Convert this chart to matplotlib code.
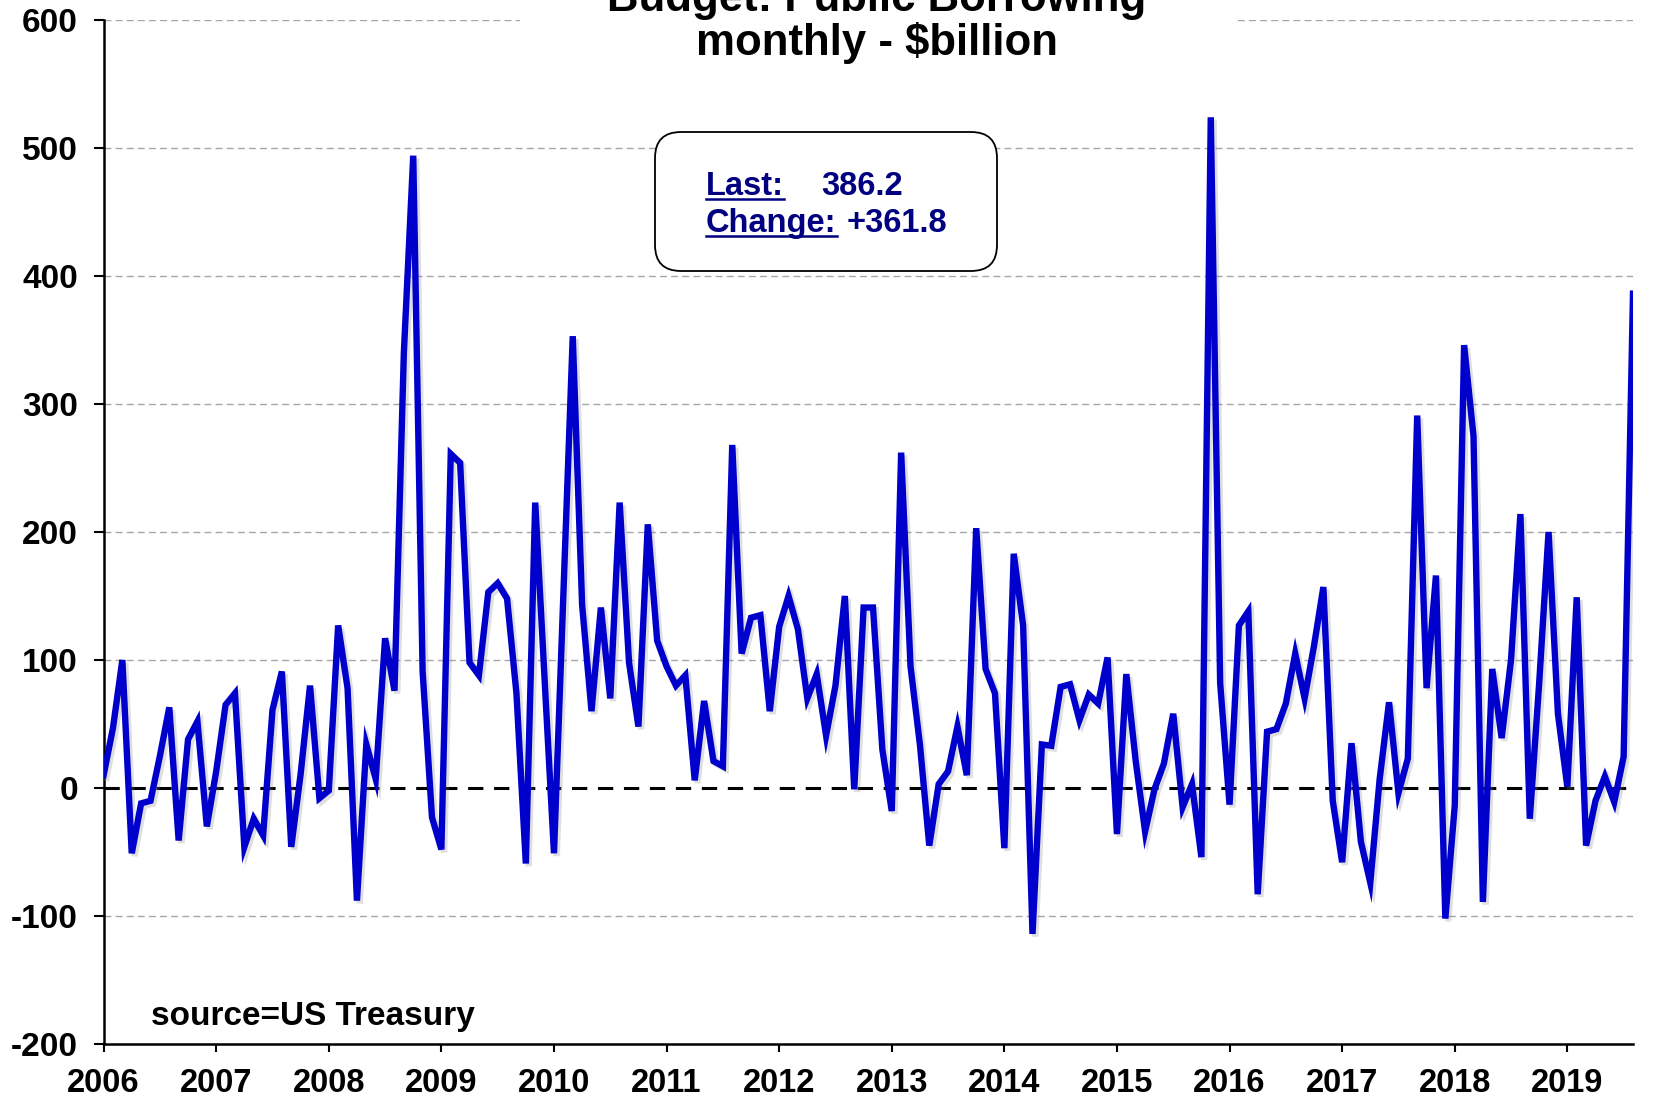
import matplotlib
matplotlib.use("Agg")
import matplotlib.pyplot as plt
import matplotlib.patheffects as pe
from matplotlib.patches import FancyBboxPatch, Rectangle
from matplotlib.lines import Line2D
from matplotlib.transforms import IdentityTransform
import numpy as np

# monthly public borrowing, $billion, Jan 2006 .. Aug 2019
y2006 = [10, 47, 100, -51, -12, -10, 25, 63, -41, 38, 52, -30]
y2007 = [13, 65, 74, -46, -24, -37, 61, 91, -46, 11, 80, -8]
y2008 = [-2, 127, 78, -88, 34, 7, 117, 76, 340, 494, 91, -23]
y2009 = [-48, 261, 254, 98, 88, 153, 160, 148, 74, -59, 223, 85]
y2010 = [-51, 150, 353, 143, 60, 141, 70, 223, 98, 48, 206, 115]
y2011 = [95, 80, 88, 6, 68, 21, 17, 268, 105, 133, 135, 60]
y2012 = [126, 150, 124, 70, 89, 41, 80, 150, -1, 141, 141, 30]
y2013 = [-18, 262, 95, 34, -45, 3, 13, 48, 10, 203, 93, 74]
y2014 = [-47, 183, 127, -114, 34, 33, 79, 81, 53, 73, 66, 102]
y2015 = [-36, 89, 21, -34, -1, 19, 58, -15, 3, -54, 524, 82]
y2016 = [-13, 127, 138, -83, 44, 46, 66, 105, 70, 111, 157, -10]
y2017 = [-58, 35, -42, -74, 7, 67, -4, 23, 291, 78, 166, -102]
y2018 = [-14, 346, 275, -89, 93, 39, 100, 214, -24, 82, 200, 58]
y2019 = [1, 149, -45, -10, 9, -11, 24.4, 386.2]

years = ["2006", "2007", "2008", "2009", "2010", "2011", "2012",
         "2013", "2014", "2015", "2016", "2017", "2018", "2019"]
yticks = [-200, -100, 0, 100, 200, 300, 400, 500, 600]

title1 = "Budget: Public Borrowing"
title2 = "monthly - $billion"
last_val = "386.2"
change_val = "+361.8"
source = "source=US Treasury"

values = (y2006 + y2007 + y2008 + y2009 + y2010 + y2011 + y2012 +
          y2013 + y2014 + y2015 + y2016 + y2017 + y2018 + y2019)
months = np.arange(len(values))

plt.rcParams["font.family"] = ["Liberation Sans", "DejaVu Sans"]
plt.rcParams["font.weight"] = "bold"

W, H = 1654, 1100
fig = plt.figure(figsize=(W / 100, H / 100), dpi=100)
ax = fig.add_axes([103.6 / W, 1 - 1044 / H, (1633 - 103.6) / W, (1044 - 20) / H])

for v in yticks[1:]:
    if v == 0:
        continue
    ax.axhline(v, color="#a6a6a6", lw=1, ls=(0, (5, 3)), zorder=1)
ax.axhline(0, color="black", lw=2.2, ls=(0, (5, 3.5)), zorder=2)

ax.plot(months, values, color="#0000cc", lw=4.6, zorder=3,
        solid_joinstyle="miter",
        path_effects=[pe.SimpleLineShadow(offset=(2, -2), shadow_color="gray", alpha=0.25),
                      pe.Normal()])

ax.set_xlim(0, len(values) - 1)
ax.set_ylim(-200, 600)
ax.set_yticks(yticks)
ax.set_yticklabels([str(v) for v in yticks])
ax.set_xticks(np.arange(len(years)) * 12)
ax.set_xticklabels(years)

for s in ["top", "right"]:
    ax.spines[s].set_visible(False)
for s in ["left", "bottom"]:
    ax.spines[s].set_linewidth(1.8)

ax.tick_params(axis="y", direction="out", length=7.5, width=1.5, pad=11, labelsize=24)
ax.tick_params(axis="x", direction="out", length=6, width=1.5, pad=11, labelsize=23.5)
for lab in ax.get_xticklabels() + ax.get_yticklabels():
    lab.set_fontweight("bold")

# white band behind the title hides the top gridline
fig.patches.append(Rectangle((520 / W, 1 - 62 / H), (1234 - 520) / W, 62 / H,
                             transform=fig.transFigure, facecolor="white",
                             edgecolor="none", zorder=2))
fig.text(877 / W, 1 - 11 / H, title1, ha="center", va="baseline",
         fontsize=31.5, fontweight="bold", zorder=3)
fig.text(877 / W, 1 - 55 / H, title2, ha="center", va="baseline",
         fontsize=31.5, fontweight="bold", zorder=3)

# the Last / Change box
box = FancyBboxPatch((655, H - 271), 342, 139,
                     boxstyle="round,pad=0,rounding_size=26",
                     transform=IdentityTransform(), facecolor="white",
                     edgecolor="black", lw=1.3, zorder=4)
fig.patches.append(box)

navy = "#000080"
t1 = fig.text(706 / W, 1 - 186.5 / H, "Last:", ha="left", va="center",
              fontsize=23.5, color=navy, zorder=5)
fig.text(821 / W, 1 - 186.5 / H, last_val, ha="left", va="center",
         fontsize=23.5, color=navy, zorder=5)
t2 = fig.text(706 / W, 1 - 223.5 / H, "Change:", ha="left", va="center",
              fontsize=23.5, color=navy, zorder=5)
fig.text(847 / W, 1 - 223.5 / H, change_val, ha="left", va="center",
         fontsize=23.5, color=navy, zorder=5)

fig.text(151 / W, 1 - 1016 / H, source, ha="left", va="center",
         fontsize=24, color="black")

# underline Last: and Change:
fig.canvas.draw()
r = fig.canvas.get_renderer()
for t in [t1, t2]:
    bb = t.get_window_extent(r)
    yl = bb.y0 + 3
    fig.lines.append(Line2D([bb.x0 / W, bb.x1 / W], [yl / H, yl / H],
                            transform=fig.transFigure, color=navy, lw=1.8, zorder=5))

fig.savefig("out.png", dpi=100)
